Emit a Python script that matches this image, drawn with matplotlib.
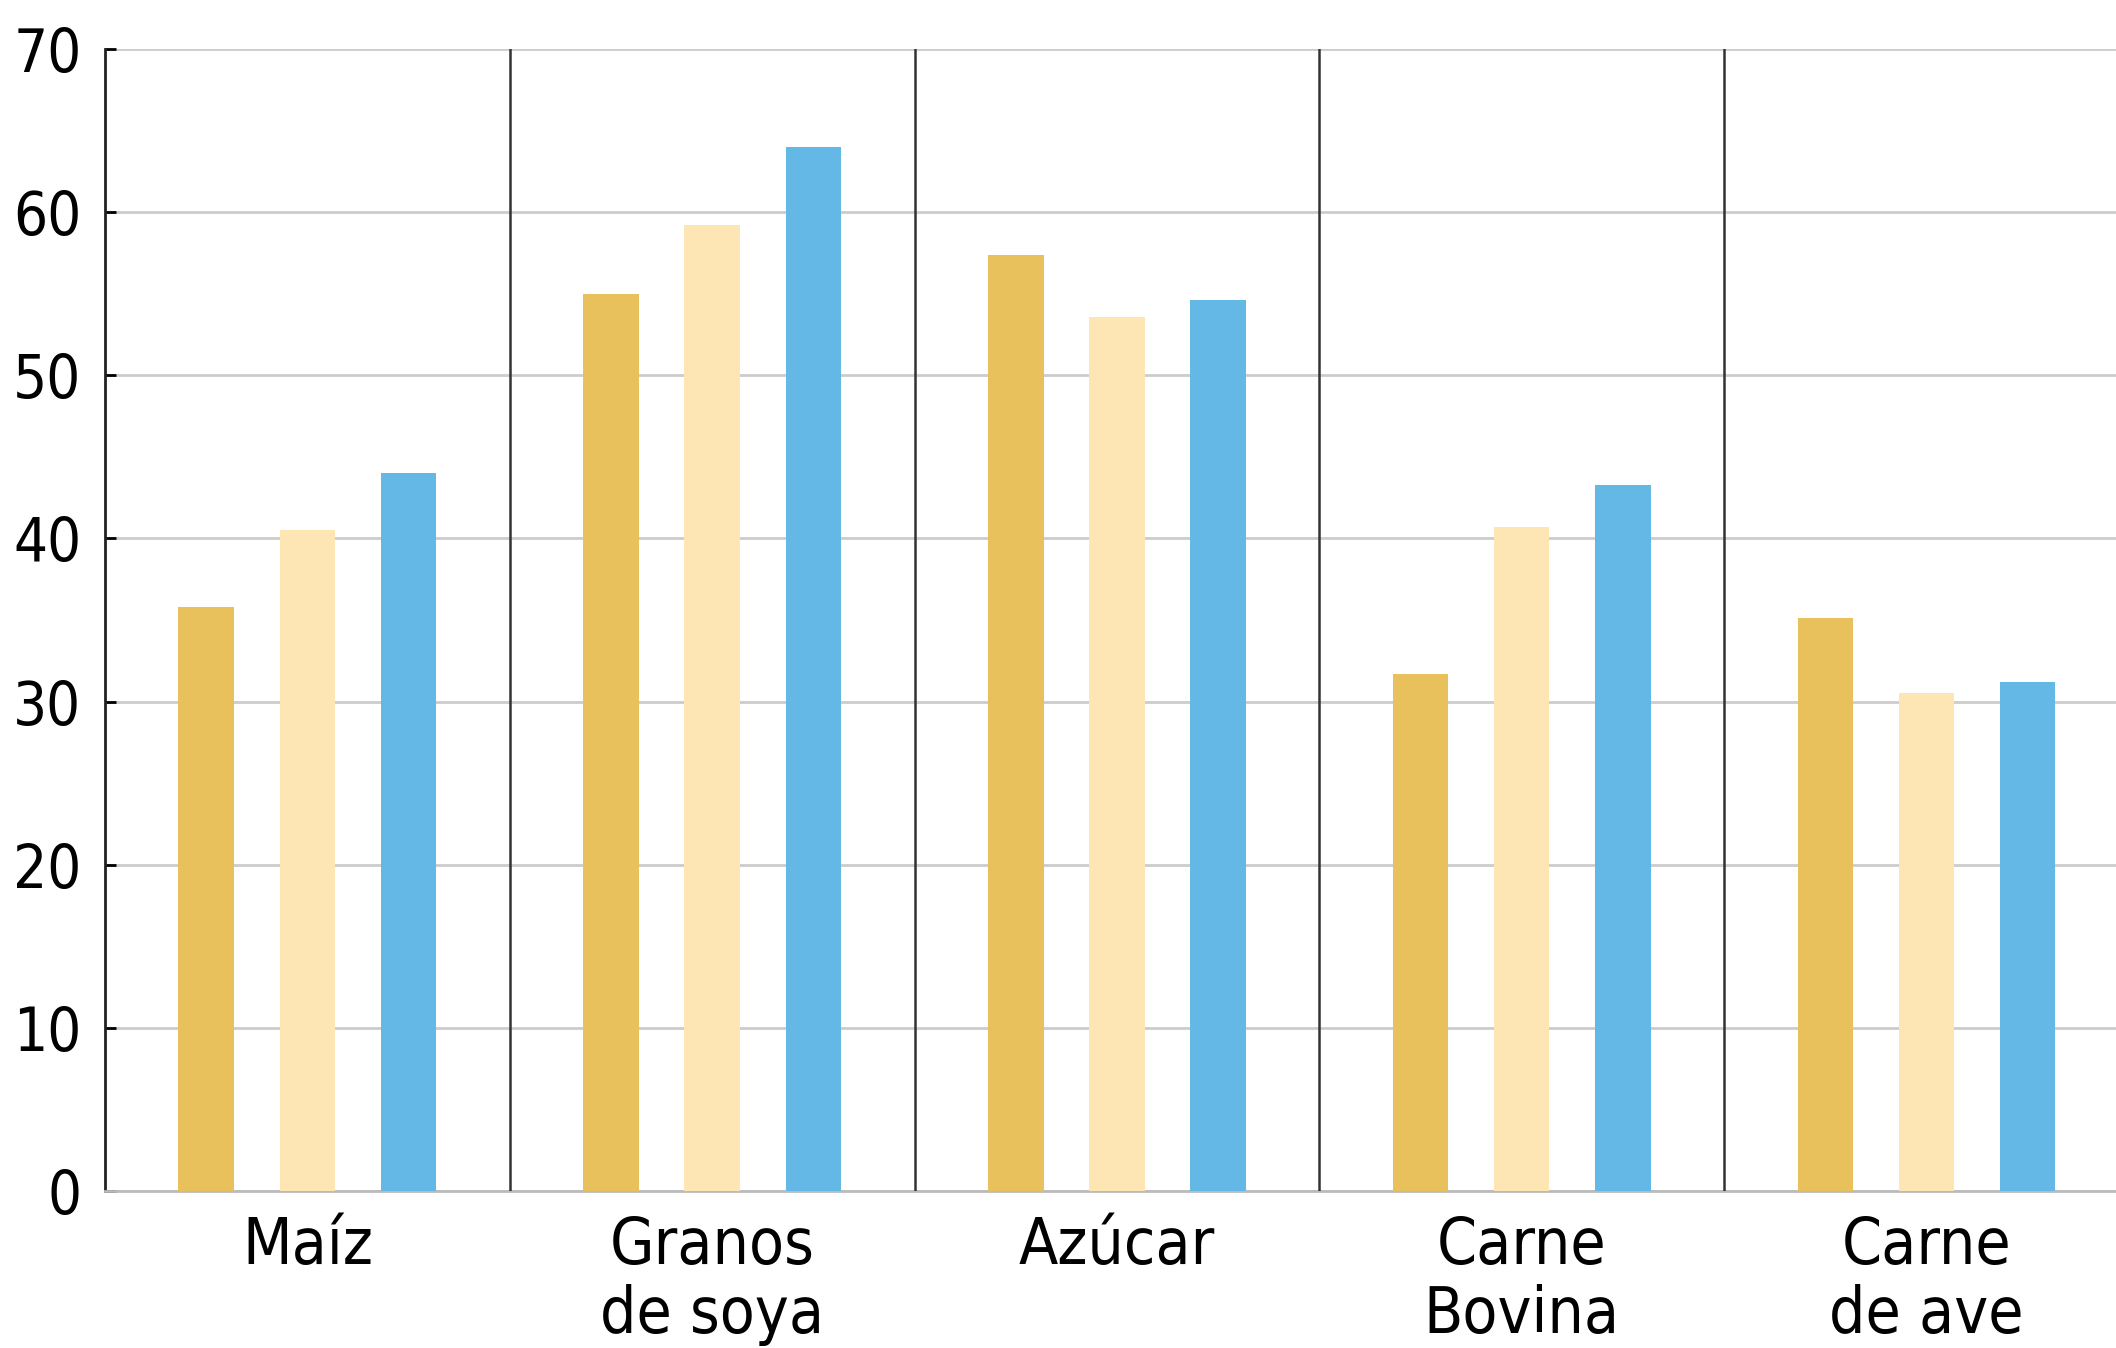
import numpy as np
import matplotlib
matplotlib.use("Agg")
from matplotlib import pyplot as plt

plt.rcParams['font.family'] = ['DejaVu Sans']
plt.rcParams['font.stretch'] = 'condensed'

categorias = ['Maíz', 'Granos\nde soya', 'Azúcar', 'Carne\nBovina', 'Carne\nde ave']
serie1 = [35.8, 55.0, 57.4, 31.7, 35.1]
serie2 = [40.5, 59.2, 53.6, 40.7, 30.5]
serie3 = [44.0, 64.0, 54.6, 43.3, 31.2]
colores = ['#E8C15C', '#FDE6B4', '#63B8E6']
yticks = [0, 10, 20, 30, 40, 50, 60, 70]

fig = plt.figure(figsize=(21.16, 13.48), dpi=100)
ax = fig.add_axes([105 / 2116, 157 / 1348, (2116 - 105) / 2116, 1142 / 1348])

x = np.arange(len(categorias))
ancho = 0.137
off = 0.25
for i, (s, c) in enumerate(zip([serie1, serie2, serie3], colores)):
    ax.bar(x + (i - 1) * off, s, ancho, color=c, zorder=3)

# separadores entre categorias
for xs in x[:-1] + 0.5:
    ax.axvline(xs, color='#333333', lw=1.8, zorder=4)

ax.set_xlim(-0.5, 4.468)
ax.set_ylim(0, 70)
ax.set_yticks(yticks)
ax.set_xticks(x)
ax.set_xticklabels(categorias, fontsize=46, linespacing=1.15)
ax.tick_params(axis='x', length=0, pad=17)
ax.tick_params(axis='y', direction='in', length=8, width=2, labelsize=43, pad=17)
ax.grid(axis='y', color='#cccccc', lw=2, zorder=0)
ax.set_axisbelow(True)

for s in ['top', 'right']:
    ax.spines[s].set_visible(False)
ax.spines['left'].set_color('#222222')
ax.spines['left'].set_linewidth(2)
ax.spines['bottom'].set_color('#bbbbbb')
ax.spines['bottom'].set_linewidth(2)

fig.savefig('out.png', dpi=100)
